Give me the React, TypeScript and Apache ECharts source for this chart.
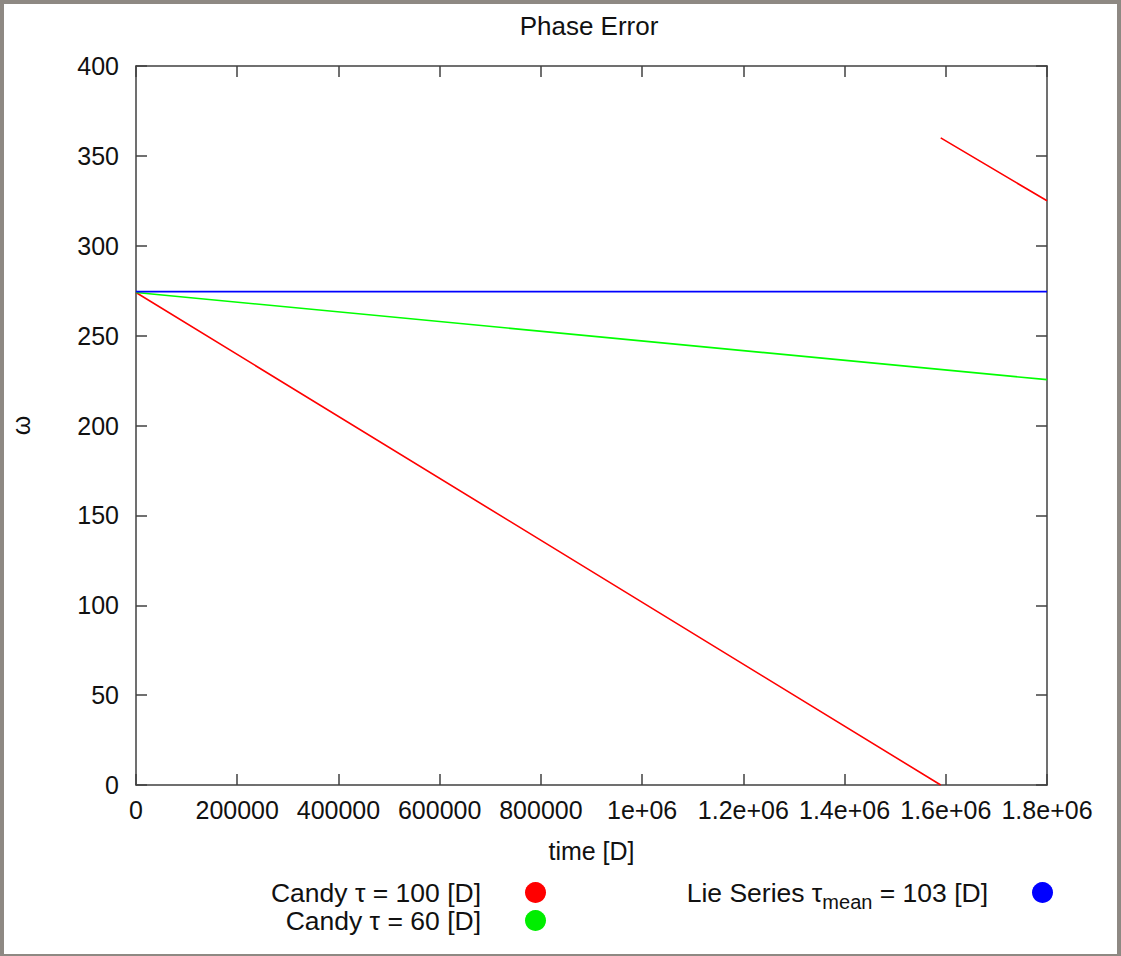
import React, { useEffect, useRef } from "react";
import * as echarts from "echarts";

// ---- data ----
const xTickLabels = ["0", "200000", "400000", "600000", "800000", "1e+06", "1.2e+06", "1.4e+06", "1.6e+06", "1.8e+06"];
const xStep = 200000;

const redTimes = [0, 1590000, 1590000, 1590000, 1800000];
const redValues: (number | string)[] = [274, 0, "-", 360, 325];

const greenTimes = [0, 1800000];
const greenValues = [274, 225.5];

const blueTimes = [0, 1800000];
const blueValues = [274.5, 274.5];

const seriesNames = ["Candy τ = 100 [D]", "Candy τ = 60 [D]", "Lie Series τmean = 103 [D]"];
const seriesColors = ["#ff0000", "#00ee00", "#0000ff"];

const FONT = "'Liberation Sans', Arial, sans-serif";
const FS = 25;
const LFS = 26.5;

function pairs(xs: number[], ys: (number | string)[]) {
  return xs.map((x, i) => [x, ys[i]]);
}

export default function App() {
  const ref = useRef<HTMLDivElement>(null);

  useEffect(() => {
    if (!ref.current) return;
    const chart = echarts.init(ref.current, undefined, { renderer: "svg" });

    const axisLine = { show: true, onZero: false, lineStyle: { color: "#404040", width: 1.5 } };
    const axisTick = { show: true, inside: true, length: 11, lineStyle: { color: "#404040", width: 1.5 } };
    const labelStyle = { fontFamily: FONT, fontSize: FS, color: "#111" };

    const xFmt = (v: number) => xTickLabels[Math.round(v / xStep)] ?? String(v);

    const legendBase = {
      orient: "vertical" as const,
      align: "right" as const,
      icon: "circle",
      itemWidth: 21,
      itemHeight: 22,
      padding: 0,
      selectedMode: false,
      textStyle: {
        fontFamily: FONT,
        fontSize: LFS,
        color: "#111",
        padding: [0, 39, 0, 0],
        rich: {
          a: { fontFamily: FONT, fontSize: LFS, color: "#111" },
          s: { fontFamily: FONT, fontSize: 20, color: "#111", padding: [18, 0, 0, 0] },
        },
      },
      formatter: (name: string) => {
        if (name === seriesNames[2]) return "{a|Lie Series τ}{s|mean}{a| = 103 [D]}";
        return "{a|" + name + "}";
      },
    };

    chart.setOption({
      animation: false,
      title: {
        text: "Phase Error",
        left: 589,
        top: 13,
        padding: 0,
        textAlign: "center",
        textStyle: { fontFamily: FONT, fontSize: 26, fontWeight: "normal", color: "#111" },
      },
      grid: { left: 133, top: 66, width: 914, height: 719, containLabel: false },
      legend: [
        { ...legendBase, data: [seriesNames[0]], right: 1121 - 546, top: 879 },
        { ...legendBase, data: [seriesNames[1]], right: 1121 - 546, top: 907 },
        { ...legendBase, data: [seriesNames[2]], right: 1121 - 1053, top: 879 },
      ],
      xAxis: [
        {
          type: "value",
          position: "bottom",
          min: 0,
          max: 1800000,
          interval: xStep,
          axisLine,
          axisTick,
          splitLine: { show: false },
          axisLabel: { ...labelStyle, margin: 12, formatter: xFmt, showMaxLabel: true, showMinLabel: true },
          name: "time [D]",
          nameLocation: "middle",
          nameGap: 53,
          nameTextStyle: labelStyle,
        },
        {
          type: "value",
          position: "top",
          min: 0,
          max: 1800000,
          interval: xStep,
          axisLine,
          axisTick,
          splitLine: { show: false },
          axisLabel: { show: false },
        },
      ],
      yAxis: [
        {
          type: "value",
          position: "left",
          min: 0,
          max: 400,
          interval: 50,
          axisLine,
          axisTick,
          splitLine: { show: false },
          axisLabel: { ...labelStyle, margin: 17 },
          name: "ω",
          nameLocation: "middle",
          nameRotate: 90,
          nameGap: 103,
          nameTextStyle: labelStyle,
        },
        {
          type: "value",
          position: "right",
          min: 0,
          max: 400,
          interval: 50,
          axisLine,
          axisTick,
          splitLine: { show: false },
          axisLabel: { show: false },
        },
      ],
      series: [
        {
          name: seriesNames[0],
          type: "line",
          xAxisIndex: 0,
          yAxisIndex: 0,
          data: pairs(redTimes, redValues),
          showSymbol: false,
          symbol: "none",
          connectNulls: false,
          color: seriesColors[0],
          lineStyle: { color: seriesColors[0], width: 1.6 },
        },
        {
          name: seriesNames[1],
          type: "line",
          xAxisIndex: 0,
          yAxisIndex: 0,
          data: pairs(greenTimes, greenValues),
          showSymbol: false,
          symbol: "none",
          color: seriesColors[1],
          lineStyle: { color: "#00ff00", width: 1.6 },
        },
        {
          name: seriesNames[2],
          type: "line",
          xAxisIndex: 0,
          yAxisIndex: 0,
          data: pairs(blueTimes, blueValues),
          showSymbol: false,
          symbol: "none",
          color: seriesColors[2],
          lineStyle: { color: seriesColors[2], width: 1.6 },
        },
      ],
    });

    return () => chart.dispose();
  }, []);

  return (
    <div style={{ position: "absolute", left: 0, top: 0, width: 1121, height: 956, background: "#8e8983" }}>
      <div style={{ position: "absolute", left: 4, top: 4, width: 1113, height: 950, background: "#ffffff" }} />
      <div ref={ref} style={{ position: "absolute", left: 0, top: 0, width: 1121, height: 956 }} />
    </div>
  );
}
